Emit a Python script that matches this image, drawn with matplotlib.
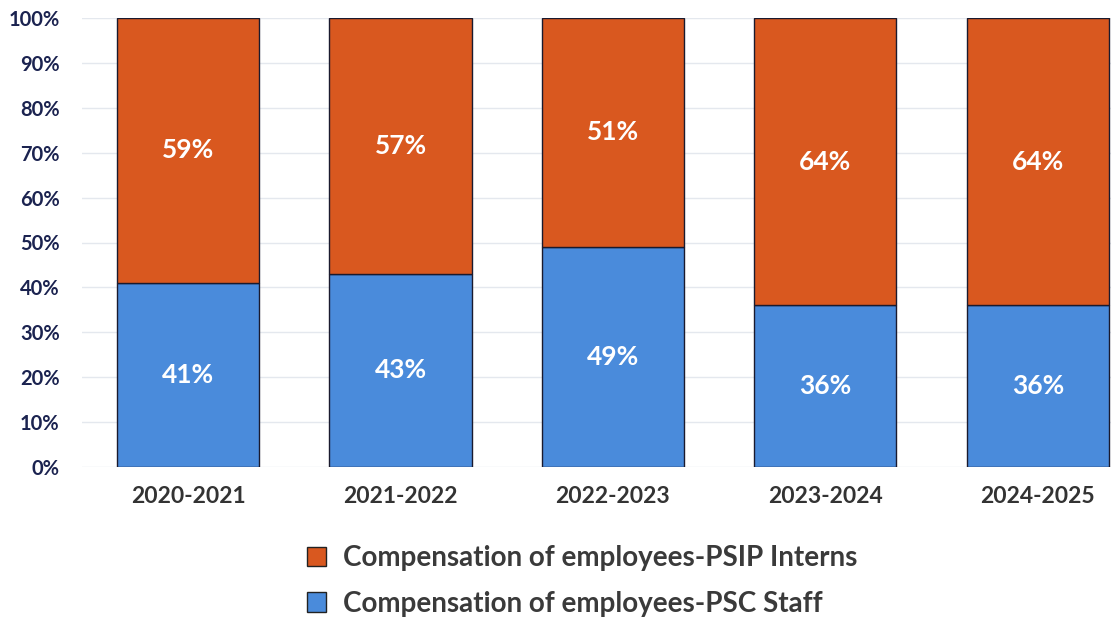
import numpy as np
import matplotlib.pyplot as plt
from matplotlib.patches import Patch

years = ['2020-2021', '2021-2022', '2022-2023', '2023-2024', '2024-2025']
psc_staff = [41, 43, 49, 36, 36]
psip_interns = [59, 57, 51, 64, 64]

blue = '#4A8BDB'
orange = '#D9581F'
navy = '#1B2350'

plt.rcParams['font.family'] = ['Lato', 'DejaVu Sans']

fig = plt.figure(figsize=(11.11, 6.24), dpi=100)
ax = fig.add_axes([82 / 1111, 157 / 624, 1029 / 1111, 449 / 624])

x = np.arange(len(years))
ax.bar(x, psc_staff, width=0.67, color=blue, edgecolor='#1a1a2e', linewidth=1)
ax.bar(x, psip_interns, width=0.67, bottom=psc_staff, color=orange,
       edgecolor='#1a1a2e', linewidth=1)

for i in range(len(years)):
    ax.text(x[i], psc_staff[i] / 2, f'{psc_staff[i]}%', ha='center', va='center',
            color='white', fontsize=19, fontweight='bold')
    ax.text(x[i], psc_staff[i] + psip_interns[i] / 2, f'{psip_interns[i]}%',
            ha='center', va='center', color='white', fontsize=19, fontweight='bold')

ax.set_ylim(0, 100)
ax.set_xlim(-0.5, 4.345)
ax.set_yticks(range(0, 101, 10))
ax.set_yticklabels([f'{v}%' for v in range(0, 101, 10)])
ax.set_xticks(x)
ax.set_xticklabels(years)
ax.tick_params(axis='y', length=0, pad=16, labelsize=14.5, labelcolor=navy)
ax.tick_params(axis='x', length=0, pad=14, labelsize=16.5, labelcolor='#333333')
for lab in ax.get_yticklabels() + ax.get_xticklabels():
    lab.set_fontweight('bold')
ax.grid(axis='y', color='#e4e8ee', linewidth=1)
ax.set_axisbelow(True)
for s in ax.spines.values():
    s.set_visible(False)

handles = [Patch(facecolor=orange, edgecolor='#222222'),
           Patch(facecolor=blue, edgecolor='#222222')]
fig.legend(handles, ['Compensation of employees-PSIP Interns',
                     'Compensation of employees-PSC Staff'],
           loc='center left', bbox_to_anchor=(282 / 1111, 1 - 581 / 624),
           frameon=False, prop={'size': 20, 'weight': 'bold'},
           handlelength=0.7, handleheight=0.7,
           handletextpad=0.6, labelspacing=0.7, labelcolor='#3a3a3a')

fig.savefig('out.png', dpi=100)
